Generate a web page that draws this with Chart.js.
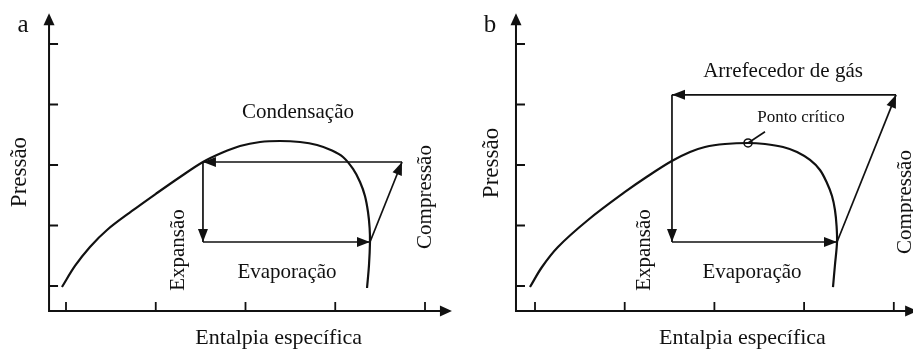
<!DOCTYPE html>
<html><head><meta charset="utf-8">
<script src="https://cdn.jsdelivr.net/npm/chart.js@4"></script>
<style>
html,body{margin:0;padding:0;background:#fff;}
#wrap{position:relative;width:913px;height:352px;overflow:hidden;background:#fff;}
canvas{position:absolute;top:0;}
</style></head><body>
<div id="wrap">
<canvas id="ca" width="456" height="352" style="left:0;width:456px;height:352px"></canvas>
<canvas id="cb" width="457" height="352" style="left:456px;width:457px;height:352px"></canvas>
</div>
<script>
// ---------- data (specific enthalpy h, pressure p, arbitrary units) ----------
const tickValues = [0, 1, 2, 3, 4];

// Panel a: saturation dome
const domeA_h = [-0.045, 0.100, 0.267, 0.457, 0.735, 1.014, 1.271, 1.526, 1.738, 1.939, 2.162, 2.384, 2.607, 2.797, 2.964, 3.086, 3.198, 3.276, 3.331, 3.365, 3.383, 3.387, 3.376, 3.354];
const domeA_p = [-0.017, 0.331, 0.645, 0.926, 1.240, 1.537, 1.802, 2.050, 2.202, 2.314, 2.380, 2.397, 2.380, 2.331, 2.240, 2.132, 1.934, 1.719, 1.488, 1.223, 0.959, 0.727, 0.347, -0.033];
// Panel a: cycle states (1 compressor exit, 2 condenser exit, 3 valve exit, 4 evaporator exit)
const cycleA_h = [3.744, 1.526, 1.526, 3.387];
const cycleA_p = [2.05, 2.05, 0.727, 0.727];

// Panel b: saturation dome
const domeB_h = [-0.056, 0.078, 0.256, 0.591, 1.003, 1.260, 1.525, 1.728, 1.895, 2.118, 2.375, 2.564, 2.765, 2.921, 3.066, 3.177, 3.255, 3.311, 3.344, 3.362, 3.367, 3.344, 3.322];
const domeB_p = [-0.017, 0.314, 0.645, 1.091, 1.554, 1.818, 2.066, 2.215, 2.298, 2.347, 2.364, 2.347, 2.298, 2.215, 2.083, 1.917, 1.702, 1.488, 1.256, 0.992, 0.727, 0.347, -0.017];
// Panel b: transcritical cycle states
const cycleB_h = [4.025, 1.527, 1.527, 3.367];
const cycleB_p = [3.16, 3.16, 0.727, 0.727];
// Panel b: critical point and its leader end
const critB_h = [2.375, 2.564];
const critB_p = [2.364, 2.55];

// ---------- helpers ----------
const INK = '#111';
const SERIF = '"Liberation Serif", "Times New Roman", serif';
const pts = (hs, ps) => hs.map((h, i) => ({x: h, y: ps[i]}));

function drawHead(ctx, x, y, ang, len, wid) {
  ctx.save();
  ctx.translate(x, y); ctx.rotate(ang);
  ctx.beginPath();
  ctx.moveTo(0, 0); ctx.lineTo(-len, -wid / 2); ctx.lineTo(-len, wid / 2); ctx.closePath();
  ctx.fillStyle = INK; ctx.fill();
  ctx.restore();
}

const arrowPlugin = {
  id: 'arrows',
  afterDatasetsDraw(chart) {
    const ctx = chart.ctx, xs = chart.scales.x, ys = chart.scales.y;
    chart.data.datasets.forEach(ds => {
      if (!ds.arrow) return;
      const n = ds.data.length, a = ds.data[n - 2], b = ds.data[n - 1];
      const x1 = xs.getPixelForValue(a.x), y1 = ys.getPixelForValue(a.y);
      const x2 = xs.getPixelForValue(b.x), y2 = ys.getPixelForValue(b.y);
      drawHead(ctx, x2, y2, Math.atan2(y2 - y1, x2 - x1), 13, 10);
    });
  }
};

const axesPlugin = {
  id: 'axesDraw',
  beforeDatasetsDraw(chart, args, o) {
    const ctx = chart.ctx, xs = chart.scales.x, ys = chart.scales.y;
    const ox = xs.getPixelForValue(o.originX), oy = ys.getPixelForValue(o.originY);
    const top = ys.getPixelForValue(o.yEnd), right = xs.getPixelForValue(o.xEnd);
    ctx.save();
    ctx.strokeStyle = INK; ctx.lineWidth = 2;
    ctx.beginPath();
    ctx.moveTo(ox, top + 8); ctx.lineTo(ox, oy); ctx.lineTo(right - 8, oy);
    ctx.stroke();
    drawHead(ctx, ox, top, -Math.PI / 2, 12, 11);
    drawHead(ctx, right, oy, 0, 12, 11);
    ctx.lineWidth = 1.8;
    ctx.beginPath();
    tickValues.forEach(v => {
      const ty = ys.getPixelForValue(v);
      ctx.moveTo(ox, ty); ctx.lineTo(ox + 9, ty);
      const tx = xs.getPixelForValue(v);
      ctx.moveTo(tx, oy); ctx.lineTo(tx, oy - 9);
    });
    ctx.stroke();
    ctx.restore();
  }
};

const textPlugin = {
  id: 'texts',
  afterDatasetsDraw(chart, args, o) {
    const ctx = chart.ctx, xs = chart.scales.x, ys = chart.scales.y;
    ctx.save();
    ctx.fillStyle = INK; ctx.textAlign = 'center'; ctx.textBaseline = 'middle';
    o.items.forEach(t => {
      ctx.save();
      ctx.translate(xs.getPixelForValue(t.x), ys.getPixelForValue(t.y));
      if (t.rot) ctx.rotate(-Math.PI / 2);
      ctx.font = (t.size || 21) + 'px ' + SERIF;
      ctx.fillText(t.text, 0, 0);
      ctx.restore();
    });
    ctx.restore();
  }
};

function segments(hs, ps) {
  const p = pts(hs, ps), out = [];
  for (let i = 0; i < p.length; i++) {
    const a = p[i], b = p[(i + 1) % p.length];
    out.push({data: [a, b], showLine: true, borderColor: INK, borderWidth: 1.7, pointRadius: 0, arrow: true, tension: 0});
  }
  return out;
}

function makePanel(id, cfg) {
  const datasets = [
    {data: pts(cfg.domeH, cfg.domeP), showLine: true, borderColor: INK, borderWidth: 2.2, pointRadius: 0, tension: 0.35}
  ].concat(segments(cfg.cycH, cfg.cycP));
  if (cfg.crit) {
    datasets.push({data: pts(cfg.crit.h, cfg.crit.p), showLine: true, borderColor: INK, borderWidth: 1.6, pointRadius: 0, tension: 0});
    datasets.push({data: [{x: cfg.crit.h[0], y: cfg.crit.p[0]}], pointRadius: 4, pointBackgroundColor: '#fff', pointBorderColor: INK, pointBorderWidth: 1.6});
  }
  new Chart(document.getElementById(id), {
    type: 'scatter',
    data: {datasets},
    options: {
      responsive: false, animation: false, devicePixelRatio: 1,
      layout: {padding: 0, autoPadding: false},
      clip: false,
      scales: {
        x: {type: 'linear', min: cfg.xMin, max: cfg.xMax, display: false},
        y: {type: 'linear', min: cfg.yMin, max: cfg.yMax, display: false}
      },
      plugins: {
        legend: {display: false}, tooltip: {enabled: false},
        axesDraw: cfg.axes,
        texts: {items: cfg.labels}
      }
    },
    plugins: [axesPlugin, arrowPlugin, textPlugin]
  });
}

makePanel('ca', {
  xMin: -0.7354, xMax: 4.3454, yMin: -1.0909, yMax: 4.7273,
  domeH: domeA_h, domeP: domeA_p, cycH: cycleA_h, cycP: cycleA_p,
  axes: {originX: -0.189, originY: -0.413, yEnd: 4.51, xEnd: 4.30},
  labels: [
    {text: 'a', x: -0.479, y: 4.30, size: 25},
    {text: 'Pressão', x: -0.512, y: 1.884, rot: true, size: 23},
    {text: 'Condensação', x: 2.585, y: 2.86},
    {text: 'Expansão', x: 1.248, y: 0.595, rot: true},
    {text: 'Evaporação', x: 2.462, y: 0.231},
    {text: 'Compressão', x: 4.0, y: 1.471, rot: true},
    {text: 'Entalpia específica', x: 2.37, y: -0.86, size: 22}
  ]
});

makePanel('cb', {
  xMin: -0.8807, xMax: 4.2140, yMin: -1.0909, yMax: 4.7273,
  domeH: domeB_h, domeP: domeB_p, cycH: cycleB_h, cycP: cycleB_p,
  crit: {h: critB_h, p: critB_p},
  axes: {originX: -0.212, originY: -0.413, yEnd: 4.51, xEnd: 4.26},
  labels: [
    {text: 'b', x: -0.502, y: 4.30, size: 25},
    {text: 'Pressão', x: -0.479, y: 2.033, rot: true, size: 23},
    {text: 'Arrefecedor de gás', x: 2.765, y: 3.554},
    {text: 'Ponto crítico', x: 2.965, y: 2.79, size: 17},
    {text: 'Expansão', x: 1.226, y: 0.595, rot: true},
    {text: 'Evaporação', x: 2.419, y: 0.231},
    {text: 'Compressão', x: 4.125, y: 1.388, rot: true},
    {text: 'Entalpia específica', x: 2.313, y: -0.86, size: 22}
  ]
});
</script>
</body></html>
